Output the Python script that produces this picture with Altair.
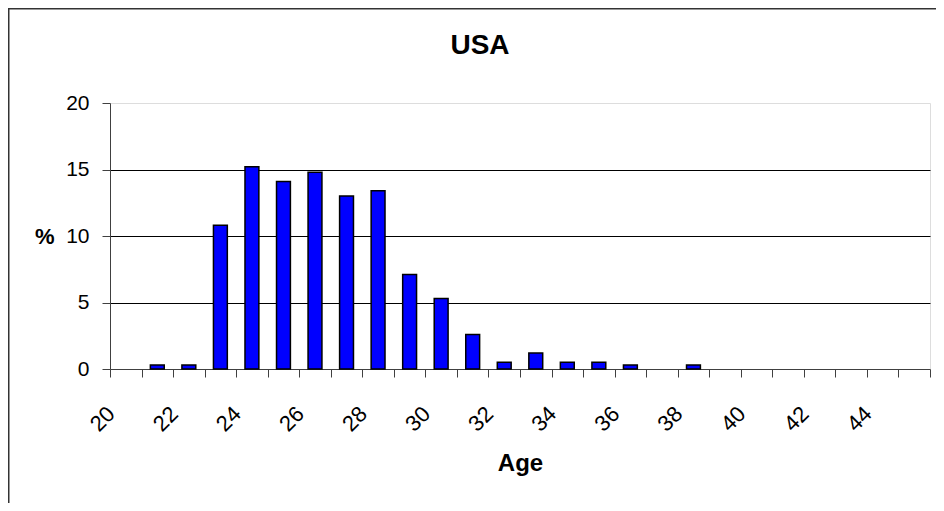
import altair as alt
import pandas as pd

ages = list(range(20, 46))
pct = [0, 0.3, 0.3, 10.8, 15.2, 14.1, 14.8, 13.0, 13.4, 7.1, 5.3, 2.6, 0.5,
       1.2, 0.5, 0.5, 0.3, 0, 0.3, 0, 0, 0, 0, 0, 0, 0]
y_ticks = [0, 5, 10, 15, 20]

df = pd.DataFrame({"age": ages, "pct": pct})
FONT = "Liberation Sans"

bars = alt.Chart(df).transform_filter("datum.pct > 0").mark_bar(
    color="#0000FF", stroke="black", strokeWidth=1.5,
    width=alt.RelativeBandSize(0.44)
).encode(
    x=alt.X("age:O",
            scale=alt.Scale(domain=ages, paddingInner=0, paddingOuter=0),
            axis=alt.Axis(title="Age", labelAngle=-45, labelAlign="right",
                          labelBaseline="middle",
                          labelExpr="datum.value % 2 == 0 ? datum.label : ''",
                          tickBand="extent", tickSize=8, tickColor="#404040",
                          domainColor="#404040", labelFontSize=22, labelFont=FONT,
                          labelColor="black", labelPadding=33, labelOffset=-15,
                          titleFont=FONT, titleFontSize=24, titleFontWeight="bold",
                          titleColor="black", titleY=101, titleBaseline="alphabetic",
                          grid=False)),
    y=alt.Y("pct:Q",
            scale=alt.Scale(domain=[0, 20], nice=False),
            axis=alt.Axis(values=y_ticks, title="%", titleAngle=0, titleX=-56,
                          titleY=133, titleAlign="right", titleBaseline="middle",
                          titleFont=FONT, titleFontSize=22, titleFontWeight="bold",
                          titleColor="black", labelFont=FONT, labelFontSize=21,
                          labelColor="black", labelPadding=13, tickSize=8,
                          tickColor="#404040", domainColor="#404040",
                          gridColor="black", gridWidth=1,
                          gridOpacity={"condition": {"test": "datum.value === 20 || datum.value === 0", "value": 0}, "value": 1}))
)

one = pd.DataFrame({"a": [0]})

border = alt.Chart(one).mark_rect(
    fill="white", fillOpacity=0, stroke="#333333", strokeWidth=2
).encode(x=alt.value(-101.5), x2=alt.value(840), y=alt.value(-94.5), y2=alt.value(407))

title = alt.Chart(one).mark_text(
    text="USA", font=FONT, fontSize=28, fontWeight="bold", color="black",
    align="center", baseline="alphabetic"
).encode(x=alt.value(370), y=alt.value(-49))

chart = alt.layer(border, bars, title).properties(
    width=820, height=266,
    padding={"left": 102, "top": 95, "right": 6, "bottom": 134},
    autosize=alt.AutoSizeParams(type="none"),
).configure_view(
    fill="#FFFFCC", stroke="#808080", strokeWidth=2
).configure(background="white")

chart.save("out.html", embed_options={"renderer": "svg", "actions": False})
